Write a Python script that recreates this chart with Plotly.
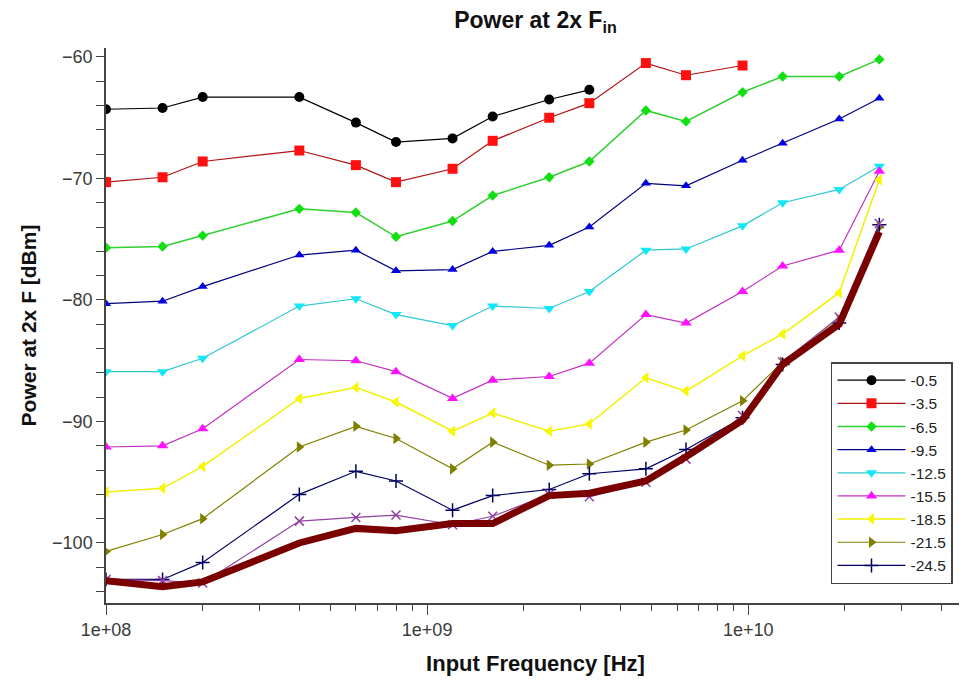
import plotly.graph_objects as go

# input frequency sweep points [Hz]
freq_hz = [1e8, 1.5e8, 2e8, 4e8, 6e8, 8e8, 1.2e9, 1.6e9, 2.4e9, 3.2e9,
           4.8e9, 6.4e9, 9.6e9, 1.28e10, 1.92e10, 2.56e10]

# power at 2x Fin [dBm], one list per input level
p_m0_5 = [-64.3, -64.2, -63.3, -63.3, -65.4, -67.0, -66.7, -64.9, -63.5, -62.7]
p_m3_5 = [-70.3, -69.9, -68.6, -67.7, -68.9, -70.3, -69.2, -66.9, -65.0, -63.8,
          -60.5, -61.5, -60.7]
p_m6_5 = [-75.7, -75.6, -74.7, -72.5, -72.8, -74.8, -73.5, -71.4, -69.9, -68.6,
          -64.4, -65.3, -62.9, -61.6, -61.6, -60.2]
p_m9_5 = [-80.3, -80.1, -78.9, -76.3, -75.9, -77.6, -77.5, -76.0, -75.5, -74.0,
          -70.4, -70.6, -68.5, -67.1, -65.1, -63.4]
p_m12_5 = [-85.9, -85.9, -84.8, -80.5, -79.9, -81.2, -82.1, -80.5, -80.7, -79.3,
           -75.9, -75.8, -73.9, -72.0, -70.9, -69.0]
p_m15_5 = [-92.1, -92.0, -90.6, -84.9, -85.0, -85.9, -88.1, -86.6, -86.3, -85.2,
           -81.2, -81.9, -79.3, -77.2, -75.9, -69.4]
p_m18_5 = [-95.8, -95.5, -93.7, -88.1, -87.2, -88.4, -90.8, -89.3, -90.8, -90.2,
           -86.4, -87.5, -84.6, -82.8, -79.4, -70.1]
p_m21_5 = [-100.7, -99.3, -98.0, -92.1, -90.4, -91.4, -93.9, -91.7, -93.6, -93.5,
           -91.7, -90.7, -88.3, -85.1, -81.6, -74.0]
p_m24_5 = [-103.0, -103.0, -101.6, -96.0, -94.1, -94.9, -97.3, -96.1, -95.6, -94.3,
           -93.9, -92.3, -89.7, -85.3, -81.9, -73.8]
p_m27_5 = [-103.0, -103.1, -103.3, -98.2, -97.9, -97.7, -98.5, -97.8, -96.0, -96.2,
           -95.0, -93.1, -89.5, -85.1, -81.4, -73.7]
p_m30_5 = [-103.1, -103.6, -103.2, -100.0, -98.8, -99.0, -98.4, -98.4, -96.1, -95.9,
           -94.9, -92.9, -89.9, -85.3, -82.0, -74.4]

names = ["-0.5", "-3.5", "-6.5", "-9.5", "-12.5", "-15.5", "-18.5", "-21.5",
         "-24.5", "-27.5", "-30.5"]
values = [p_m0_5, p_m3_5, p_m6_5, p_m9_5, p_m12_5, p_m15_5, p_m18_5, p_m21_5,
          p_m24_5, p_m27_5, p_m30_5]

# (line colour, marker colour, symbol, marker size, line width, in legend)
styles = [
    ("#000000", "#000000", "circle", 10, 1.2, True),
    ("#b01010", "#ff1010", "square", 10, 1.2, True),
    ("#30d030", "#10e010", "diamond", 8, 1.5, True),
    ("#000080", "#0000e0", "triangle-up", 9, 1.2, True),
    ("#30c8d0", "#10e8f8", "triangle-down", 10, 1.2, True),
    ("#c030c0", "#ff10ff", "triangle-up", 10, 1.2, True),
    ("#f0f000", "#f8f800", "triangle-left", 10, 1.5, True),
    ("#808000", "#808000", "triangle-right", 10, 1.2, True),
    ("#000060", "#000060", "cross-thin", 10, 1.2, True),
    ("#9040a0", "#9040a0", "x-thin", 9, 1.2, False),
    ("#7a0000", "#7a0000", "circle", 1, 7, False),
]

fig = go.Figure()
for name, vals, (lc, mc, sym, ms, lw, show) in zip(names, values, styles):
    thin = sym.endswith("-thin")
    fig.add_trace(go.Scatter(
        x=freq_hz[:len(vals)], y=vals, name=name, showlegend=show,
        mode="lines" if lw > 5 else "lines+markers",
        line=dict(color=lc, width=lw),
        marker=dict(symbol=sym, size=ms, color=mc,
                    line=dict(color=mc, width=1.5 if thin else 0)),
    ))

axis_font = dict(family="Liberation Sans, Arial", size=18, color="#3a3a3a")
minor_x = [m * 10 ** k for k in (8, 9, 10) for m in range(2, 10) if m * 10 ** k < 4.7e10]

# page body has an 8px margin, so the figure is a little smaller and shifted
fig.update_layout(
    width=959, height=675,
    paper_bgcolor="white", plot_bgcolor="white",
    margin=dict(l=98, r=2, t=40, b=80),
    font=dict(family="Liberation Sans, Arial", color="#111"),
    title=dict(text="<b>Power at 2x F<sub>in</sub></b>", x=0.55, xanchor="center",
               y=0.982, yanchor="middle", font=dict(size=23, color="#111")),
    xaxis=dict(
        type="log", range=[8, 10.675], showgrid=False, zeroline=False,
        automargin=False,
        showline=True, linecolor="#444", linewidth=1.5,
        ticks="outside", ticklen=10, tickcolor="#444",
        tickvals=[1e8, 1e9, 1e10], ticktext=["1e+08", "1e+09", "1e+10"],
        tickfont=axis_font,
        minor=dict(ticks="outside", ticklen=6, tickcolor="#444", tickvals=minor_x),
        title=dict(text="<b>Input Frequency [Hz]</b>", font=dict(size=22, color="#111"),
                   standoff=16),
    ),
    yaxis=dict(
        range=[-104.94, -59.26], showgrid=False, zeroline=False,
        automargin=False,
        showline=True, linecolor="#444", linewidth=1.5,
        ticks="outside", ticklen=8, tickcolor="#444", dtick=10, tick0=-100,
        tickfont=axis_font,
        minor=dict(ticks="outside", ticklen=8, tickcolor="#444", dtick=2),
        title=dict(text="<b>Power at 2x F [dBm]</b>", font=dict(size=21, color="#111"),
                   standoff=10),
    ),
    legend=dict(
        x=0.844, y=0.434, xanchor="left", yanchor="top",
        bgcolor="white", bordercolor="#444", borderwidth=1.5,
        font=dict(family="Liberation Sans, Arial", size=15.5, color="#222"),
        tracegroupgap=0, itemwidth=68,
    ),
)

fig.write_html("out.html")
